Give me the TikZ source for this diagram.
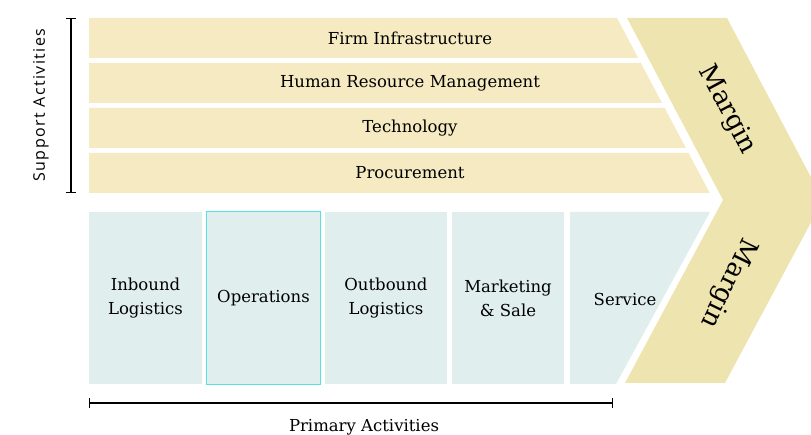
\documentclass[tikz,border=0pt]{standalone}
\usepackage{fontspec}
\setmainfont{DejaVu Serif}
\setsansfont{Open Sans}
\definecolor{supportfill}{RGB}{246,234,194}
\definecolor{marginfill}{RGB}{238,228,175}
\definecolor{primaryfill}{RGB}{224,238,238}
\definecolor{opsborder}{RGB}{84,226,234}
\begin{document}
\begin{tikzpicture}
[x=1pt,y=-1pt,
  supportband/.style={fill=supportfill},%
  supporttext/.style={font=\fontsize{16.5}{18}\selectfont},%
  primarybox/.style={fill=primaryfill,minimum height=172pt,inner sep=0pt,
    align=center,font=\fontsize{16.5}{24}\selectfont},%
  margintext/.style={font=\fontsize{26}{28}\selectfont},%
  bracketline/.style={-,line width=1.4pt,|-|}]
\useasboundingbox (0,0) rectangle (811,435);
\clip (0,0) rectangle (811,435);
%% margin chevron
\fill[marginfill] (627,18) -- (727,18) -- (823,200) -- (725,383)
  -- (625,383) -- (723,200) -- cycle;
\node (margintop) at (727,110) [margintext,rotate=-62] {Margin};
\node (marginbottom) at (728,283) [margintext,rotate=-116] {Margin};
%% support activities
\foreach \bandname/\ytop/\bandtext in {
  infra/18/Firm Infrastructure, hrm/63/Human Resource Management,
  tech/108/Technology, proc/153/Procurement}
{
  \fill[supportband] (89,\ytop) -- ({617+0.53*(\ytop-18)},\ytop)
    -- ({617+0.53*(\ytop+22)},\ytop+40) -- (89,\ytop+40) -- cycle;
  \node (\bandname) at (410,\ytop+20) [supporttext] {\bandtext};
}
%% primary activities
\foreach \boxname/\xl/\xr/\boxtext in {
  inbound/89/202/{Inbound\\Logistics}, operations/207/320/Operations,
  outbound/325/447/{Outbound\\Logistics}, marketing/452/564/{Marketing\\\& Sale}}
{
  \node (\boxname) at ({(\xl+\xr)/2},298) [primarybox,minimum width={(\xr-\xl)*1pt}] {\boxtext};
}
\draw[opsborder,line width=1.3pt] (operations.south west) rectangle (operations.north east);
\fill[primaryfill] (570,212) -- (710,212) -- (616,384) -- (570,384) -- cycle;
\node (service) at (625,299) [primarybox,minimum height=0pt] {Service};
%% brackets
\coordinate (supporttop) at (71,18);
\coordinate (supportbottom) at (71,193);
\draw[bracketline] (supporttop) -- (supportbottom);
\node (supportlabel) at (41,105) [rotate=90,
  font=\sffamily\fontsize{16}{18}\selectfont\addfontfeatures{LetterSpace=9}] {Support Activities};
\coordinate (primaryleft) at (89,403);
\coordinate (primaryright) at (613,403);
\draw[bracketline] (primaryleft) -- (primaryright);
\node (primarylabel) at (364,427) [supporttext] {Primary Activities};
\end{tikzpicture}
\end{document}
